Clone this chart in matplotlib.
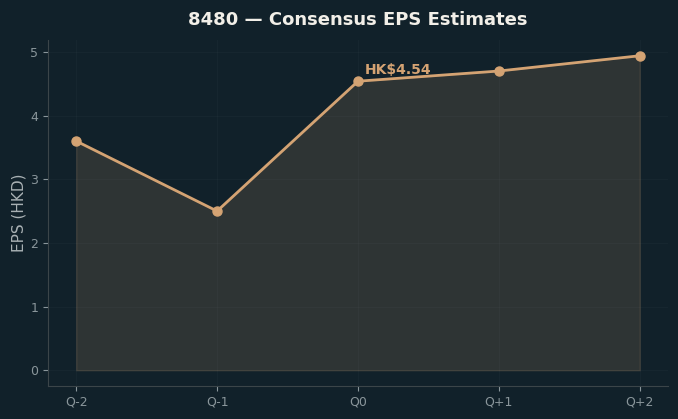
import matplotlib
matplotlib.use("Agg")
import matplotlib.pyplot as plt

quarters = ["Q-2", "Q-1", "Q0", "Q+1", "Q+2"]
eps = [3.60, 2.50, 4.54, 4.70, 4.94]
highlight_label = "HK$4.54"
highlight_idx = 2

bg = "#11212a"
line_c = "#d4a373"
tick_c = "#8a969b"

fig = plt.figure(figsize=(6.78, 4.19), dpi=100, facecolor=bg)
ax = fig.add_axes([0.0708, 0.0788, 0.9144, 0.8257])
ax.set_facecolor(bg)

x = list(range(len(quarters)))
ax.fill_between(x, eps, 0, color=line_c, alpha=0.15, zorder=1)
ax.plot(x, eps, color=line_c, lw=2, marker="o", ms=6.5, zorder=3)
ax.annotate(highlight_label, (x[highlight_idx], eps[highlight_idx]),
            xytext=(5, 3), textcoords="offset points",
            color=line_c, fontsize=10, fontweight="bold", ha="left", va="bottom")

ax.set_xticks(x)
ax.set_xticklabels(quarters)
ax.set_yticks([0, 1, 2, 3, 4, 5])
ax.tick_params(colors=tick_c, labelsize=9)
for s in ["top", "right"]:
    ax.spines[s].set_visible(False)
for s in ["left", "bottom"]:
    ax.spines[s].set_color("#3b4549")
ax.grid(True, color="white", alpha=0.025, lw=0.8)
ax.set_axisbelow(True)
ax.set_ylabel("EPS (HKD)", color="#a9b1b4", fontsize=11, labelpad=3)
ax.set_title("8480 — Consensus EPS Estimates", color="#f2efe8",
             fontsize=13, fontweight="bold", pad=11)

fig.savefig("out.png", dpi=100, facecolor=bg)
